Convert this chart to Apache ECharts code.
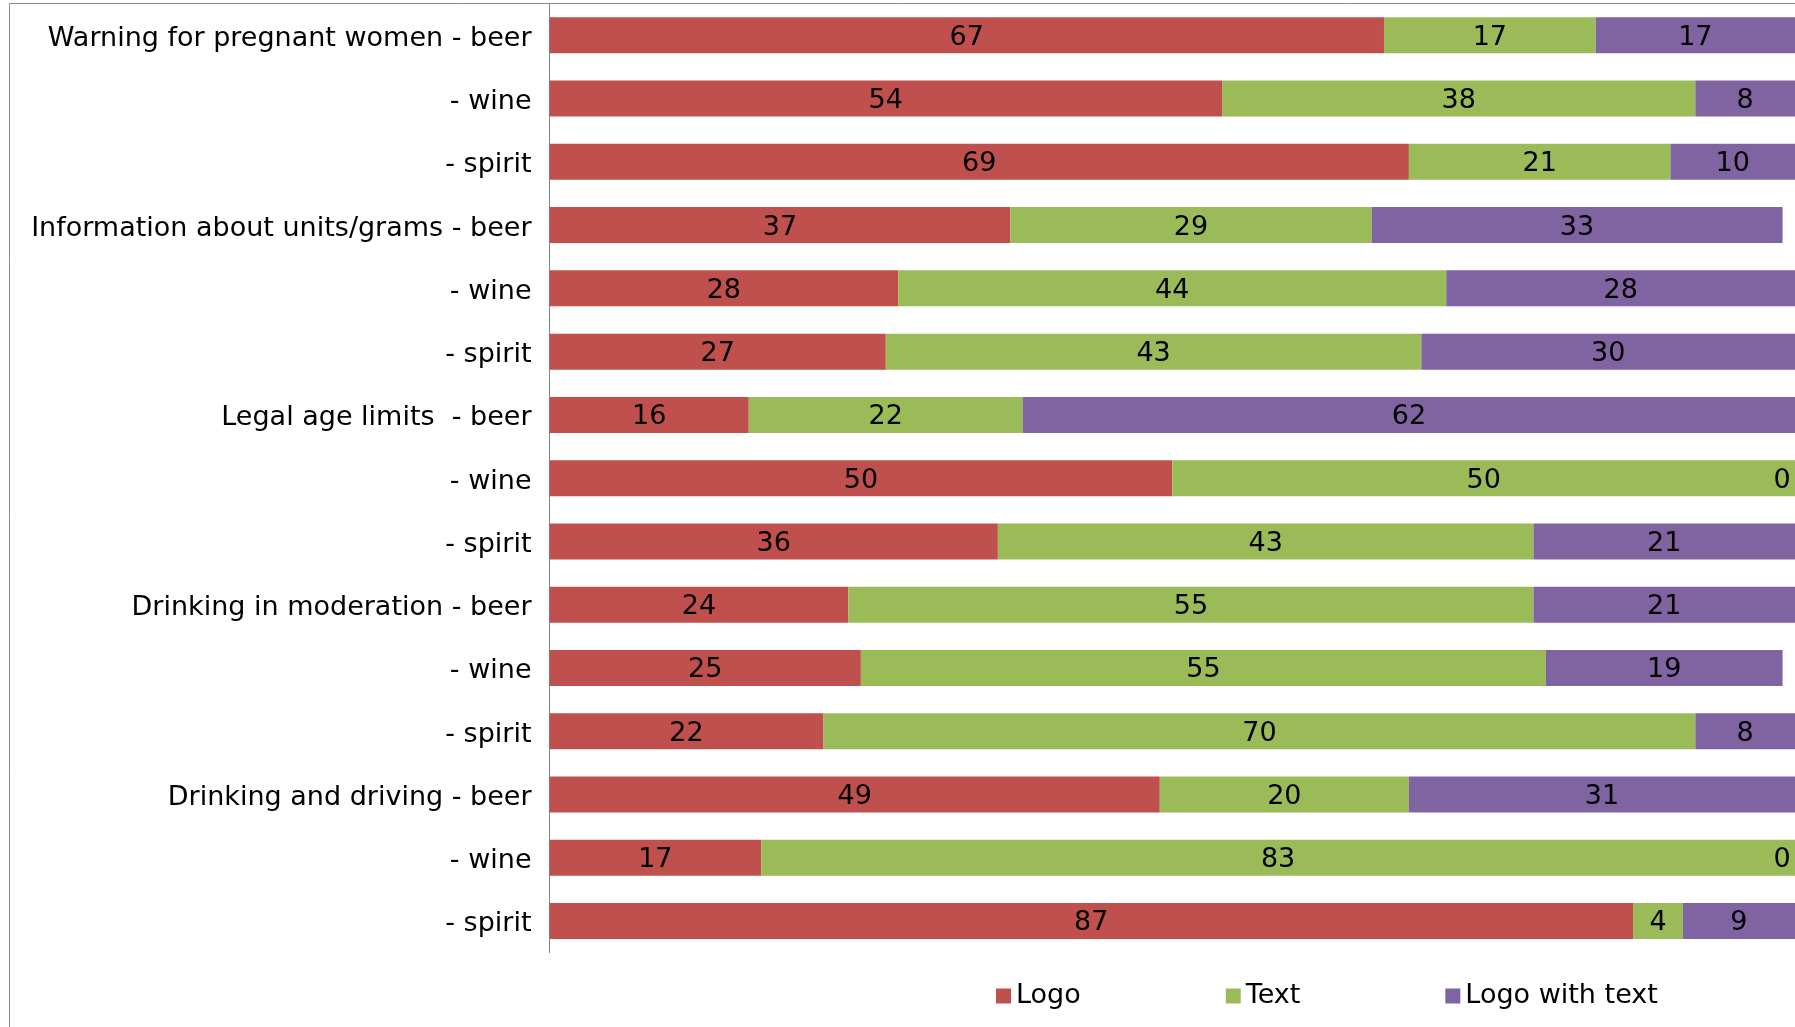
<!DOCTYPE html>
<html>
<head>
<meta charset="utf-8">
<title>Labelling of alcohol warnings by drink type</title>
<script src="https://cdn.jsdelivr.net/npm/echarts@6/dist/echarts.min.js"></script>
<style>
  html, body { margin: 0; padding: 0; background: #ffffff; }
  #chart { width: 1795px; height: 1027px; }
</style>
</head>
<body>
<div id="chart"></div>
<script>
// Row labels, top to bottom
const categories = [
  'Warning for pregnant women - beer', '- wine', '- spirit',
  'Information about units/grams - beer', '- wine', '- spirit',
  'Legal age limits  - beer', '- wine', '- spirit',
  'Drinking in moderation - beer', '- wine', '- spirit',
  'Drinking and driving - beer', '- wine', '- spirit'
];

// Share of labels (%) by format
const logoValues         = [67, 54, 69, 37, 28, 27, 16, 50, 36, 24, 25, 22, 49, 17, 87];
const textValues         = [17, 38, 21, 29, 44, 43, 22, 50, 43, 55, 55, 70, 20, 83, 4];
const logoWithTextValues = [17, 8, 10, 33, 28, 30, 62, 0, 21, 21, 19, 8, 31, 0, 9];

const seriesNames = ['Logo', 'Text', 'Logo with text'];
const seriesColors = ['#C0504D', '#9BBB59', '#8064A2'];

const FONT = 'DejaVu Sans';

// Zero-width segments sit at the far right; keep their label inside the plot.
function toItems(values) {
  return values.map(v => v === 0
    ? { value: v, label: { offset: [-13, 2.5] } }
    : v);
}

const seriesData = [logoValues, textValues, logoWithTextValues];

const chart = echarts.init(document.getElementById('chart'), null, { renderer: 'canvas' });

chart.setOption({
  animation: false,
  backgroundColor: '#ffffff',
  graphic: [{
    type: 'rect',
    silent: true,
    shape: { x: 9.5, y: 3.5, width: 3000, height: 3000 },
    style: { fill: null, stroke: '#8a8a8a', lineWidth: 1 }
  }],
  grid: {
    left: 549.5,
    top: 3.7,
    right: -1.5,
    height: 948.9,
    containLabel: false
  },
  legend: {
    data: seriesNames,
    left: 991,
    top: 976,
    itemWidth: 15,
    itemHeight: 15,
    itemGap: 145,
    icon: 'rect',
    textStyle: {
      fontFamily: FONT,
      fontSize: 27,
      color: '#000',
      lineHeight: 30
    }
  },
  xAxis: {
    type: 'value',
    min: 0,
    max: 100,
    show: false
  },
  yAxis: {
    type: 'category',
    data: categories,
    inverse: true,
    axisLine: { show: true, lineStyle: { color: '#868686', width: 1 } },
    axisTick: { show: false },
    splitLine: { show: false },
    axisLabel: {
      margin: 18,
      color: '#000',
      fontFamily: FONT,
      fontSize: 27,
      formatter: v => '{t|' + v + '}',
      rich: {
        t: {
          color: '#000',
          fontFamily: FONT,
          fontSize: 27,
          padding: [7, 0, 0, 0]
        }
      }
    }
  },
  series: seriesNames.map((name, i) => ({
    name: name,
    type: 'bar',
    stack: 'share',
    barWidth: 36,
    itemStyle: { color: seriesColors[i] },
    label: {
      show: true,
      position: 'inside',
      offset: [0, 2.5],
      color: '#000',
      fontFamily: FONT,
      fontSize: 27,
      textBorderWidth: 0
    },
    data: toItems(seriesData[i])
  }))
});
</script>
</body>
</html>
